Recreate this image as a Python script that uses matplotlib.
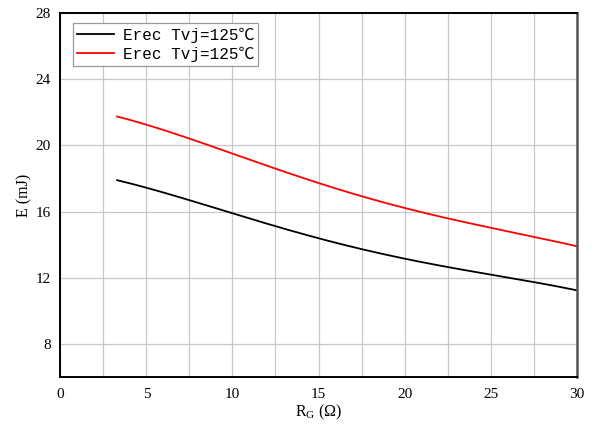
import numpy as np
import matplotlib.pyplot as plt
from matplotlib.ticker import MultipleLocator

# gate resistance (ohm) and reverse recovery energy (mJ)
rg = [3.3, 5, 7.5, 10, 12.5, 15, 17.5, 20, 22.5, 25, 27.5, 30]
erec_black = [17.88, 17.44, 16.75, 15.86, 15.05, 14.41, 13.76, 13.15, 12.65, 12.18, 11.72, 11.25]
erec_red = [21.72, 21.27, 20.44, 19.50, 18.53, 17.72, 16.97, 16.20, 15.62, 15.01, 14.44, 13.92]
labels = ['Erec Tvj=125\u2103', 'Erec Tvj=125\u2103']

x_ticks = [0, 5, 10, 15, 20, 25, 30]
y_ticks = [8, 12, 16, 20, 24, 28]

fig = plt.figure(figsize=(5.92, 4.30), dpi=100)
ax = fig.add_axes([0.1019, 0.1233, 0.8723, 0.8465])

# smooth the curves through the read points
xs = np.linspace(rg[0], rg[-1], 200)
def smooth(x, y):
    c = np.polyfit(x, y, 4)
    return np.polyval(c, xs)

ax.plot(xs, smooth(rg, erec_black), color='black', lw=1.3, label=labels[0])
ax.plot(xs, smooth(rg, erec_red), color='#ff0000', lw=1.3, label=labels[1])

ax.set_xlim(0, 30)
ax.set_ylim(6, 28)
ax.set_xticks(x_ticks)
ax.set_yticks(y_ticks)
ax.xaxis.set_minor_locator(MultipleLocator(2.5))
ax.grid(True, which='both', axis='x', color='#c8c8c8', lw=0.9)
ax.grid(True, which='major', axis='y', color='#c8c8c8', lw=0.9)
ax.set_axisbelow(True)
ax.tick_params(which='both', length=0)
ax.tick_params(axis='y', pad=7)
ax.tick_params(axis='x', pad=8)
for lab in ax.get_xticklabels() + ax.get_yticklabels():
    lab.set_fontfamily('Liberation Serif')
    lab.set_fontsize(11)

for s in ['left', 'bottom', 'top']:
    ax.spines[s].set_linewidth(1.4)
    ax.spines[s].set_color('black')
ax.spines['right'].set_linewidth(1.8)
ax.spines['right'].set_color('#555555')

ax.set_xlabel('R$_\\mathregular{G}$ ($\\mathregular{\\Omega}$)', family='Liberation Serif', fontsize=11.5, labelpad=1)
ax.set_ylabel('E (mJ)', family='Liberation Serif', fontsize=11.5, labelpad=2)

leg = ax.legend(loc='upper left', bbox_to_anchor=(0.0246, 0.9717), borderaxespad=0,
                fancybox=False, edgecolor='#999999', framealpha=1, handlelength=2.3,
                borderpad=0.25, labelspacing=0.25, handletextpad=0.55,
                prop={'family': ['Liberation Mono', 'Noto Sans CJK SC'], 'size': 11.5})
leg.get_frame().set_linewidth(0.9)

plt.savefig('out.png', dpi=100)
